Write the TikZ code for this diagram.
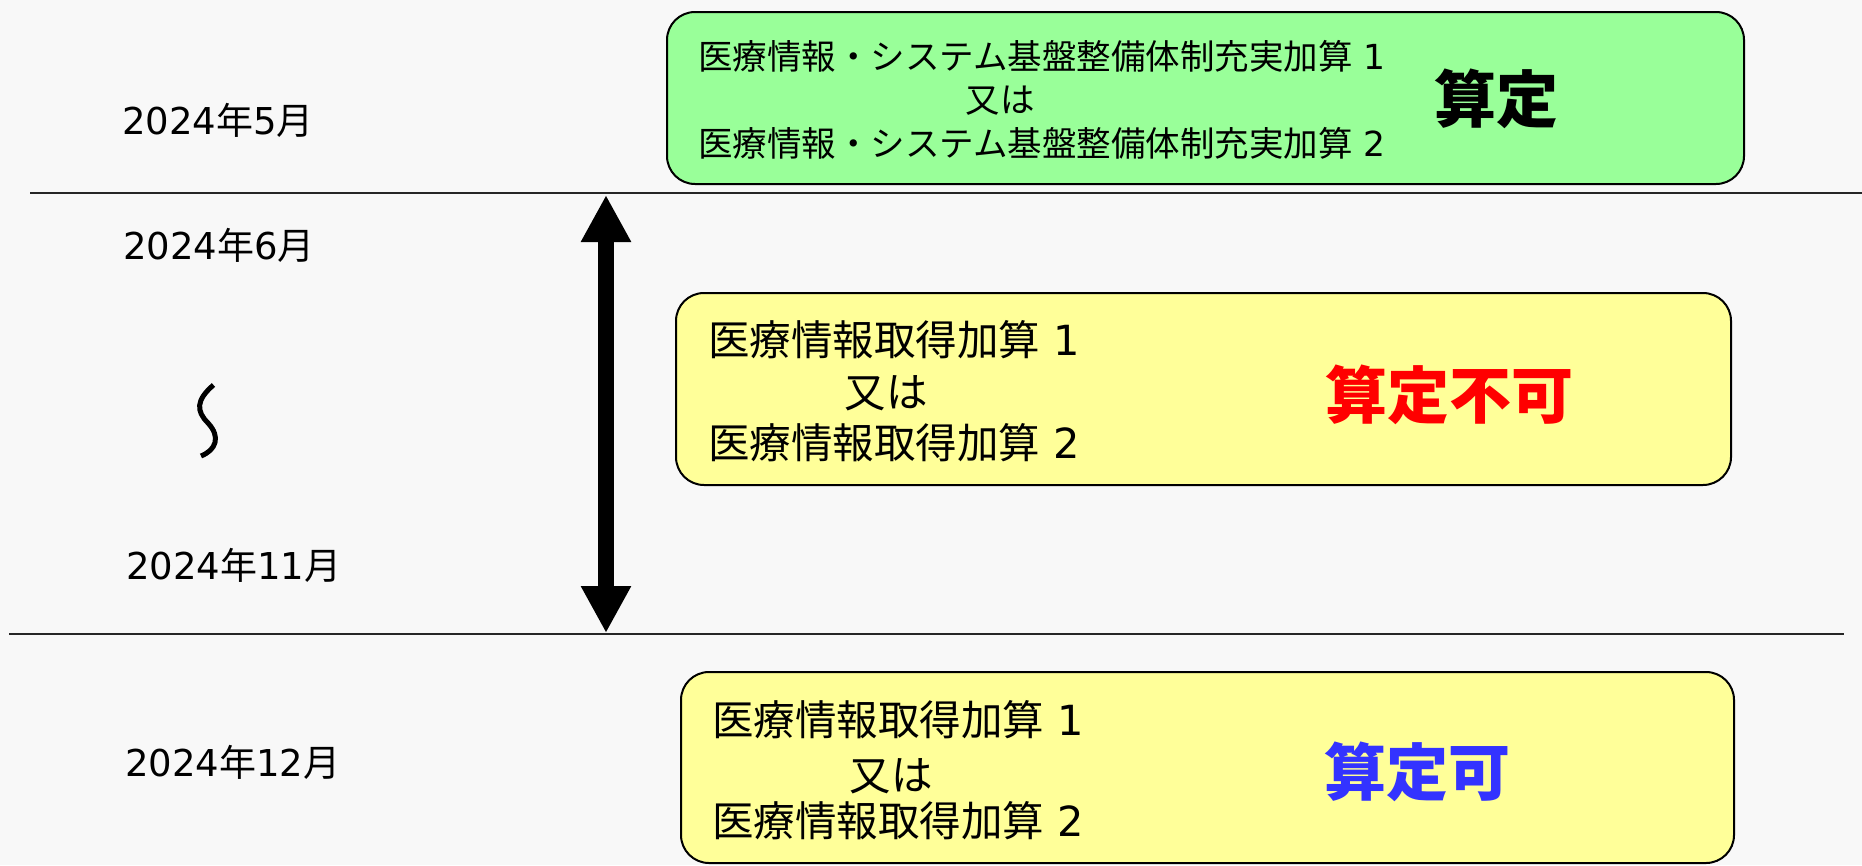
\documentclass[tikz,border=0pt]{standalone}
\usepackage{fontspec}
\setmainfont{Noto Sans CJK JP}
\newfontfamily\numfont{DejaVu Sans}
\usetikzlibrary{arrows.meta}
\definecolor{bgc}{HTML}{F8F8F8}
\definecolor{greenfill}{HTML}{99FF99}
\definecolor{yellowfill}{HTML}{FFFF99}
\definecolor{redtxt}{HTML}{FF0000}
\definecolor{bluetxt}{HTML}{3333FF}
\tikzset{
  datetxt/.style={inner sep=0pt, text height=30.7pt, text depth=2.6pt, anchor=west, font=\fontsize{37pt}{44pt}\selectfont},
  gtxt/.style={inner sep=0pt, text height=28.6pt, text depth=2.4pt, font=\fontsize{34.5pt}{43pt}\selectfont},
  ytxt/.style={inner sep=0pt, text height=34.4pt, text depth=2.9pt, font=\fontsize{41.5pt}{50pt}\selectfont},
  bigtxt/.style={inner sep=0pt, text height=51.5pt, text depth=4.3pt, font=\fontsize{62pt}{70pt}\selectfont\bfseries},
  panel/.style={draw=black, line width=2pt, rounded corners=28pt, inner sep=0pt},
  sepline/.style={draw=black!85, line width=1.6pt},
  bigarrow/.style={line width=16pt, {Triangle[width=47pt,length=47pt]}-{Triangle[width=47pt,length=47pt]}}
}
\begin{document}
\begin{tikzpicture}[x=1pt,y=-1pt]
\fill[bgc] (0,0) rectangle (1862,865);
\useasboundingbox (0,0) rectangle (1862,865);

% panels
\node[panel, fill=greenfill, minimum width=1077pt, minimum height=172pt] (pg) at (1205.5,98) {};
\node[panel, fill=yellowfill, minimum width=1055pt, minimum height=192pt] (py1) at (1203.5,389) {};
\node[panel, fill=yellowfill, minimum width=1053pt, minimum height=191pt] (py2) at (1207.5,767.5) {};

% separators
\coordinate (s1a) at (30,193);
\coordinate (s1b) at (1862,193);
\coordinate (s2a) at (9,634);
\coordinate (s2b) at (1844,634);
\draw[sepline] (s1a) -- (s1b);
\draw[sepline] (s2a) -- (s2b);

% arrow
\coordinate (atop) at (606,195);
\coordinate (abot) at (606,633);
\draw[bigarrow] (atop) -- (abot);

% dates
\node[datetxt] (d5) at (122,120) {{\numfont 2024}年{\numfont 5}月};
\node[datetxt] (d6) at (123,245) {{\numfont 2024}年{\numfont 6}月};
\node[datetxt] (d11) at (126,565) {{\numfont 2024}年{\numfont 11}月};
\node[datetxt] (d12) at (125,762) {{\numfont 2024}年{\numfont 12}月};

% wave mark
\coordinate (w0) at (213.5,385);
\coordinate (w1) at (208,423);
\coordinate (w2) at (201,456);
\draw[line width=5pt] (w0) .. controls (196,400) and (196,411) .. (w1) .. controls (221,437) and (216,450) .. (w2);

% green panel text
\node[gtxt, anchor=west] (g1) at (698,56) {医療情報・システム基盤整備体制充実加算{\numfont\ 1}};
\node[gtxt] (g2) at (1000,99.5) {又は};
\node[gtxt, anchor=west] (g3) at (698,143) {医療情報・システム基盤整備体制充実加算{\numfont\ 2}};
\node[bigtxt] (gs) at (1496,98.5) {算定};

% yellow panel 1 text
\node[ytxt, anchor=west] (ya1) at (708,340) {医療情報取得加算{\numfont\ 1}};
\node[ytxt] (ya2) at (886,392) {又は};
\node[ytxt, anchor=west] (ya3) at (708,443) {医療情報取得加算{\numfont\ 2}};
\node[bigtxt, text=redtxt] (ra) at (1449.5,394.5) {算定不可};

% yellow panel 2 text
\node[ytxt, anchor=west] (yb1) at (712,720) {医療情報取得加算{\numfont\ 1}};
\node[ytxt] (yb2) at (891,775) {又は};
\node[ytxt, anchor=west] (yb3) at (712,821) {医療情報取得加算{\numfont\ 2}};
\node[bigtxt, text=bluetxt] (bb) at (1417,772) {算定可};
\end{tikzpicture}
\end{document}
